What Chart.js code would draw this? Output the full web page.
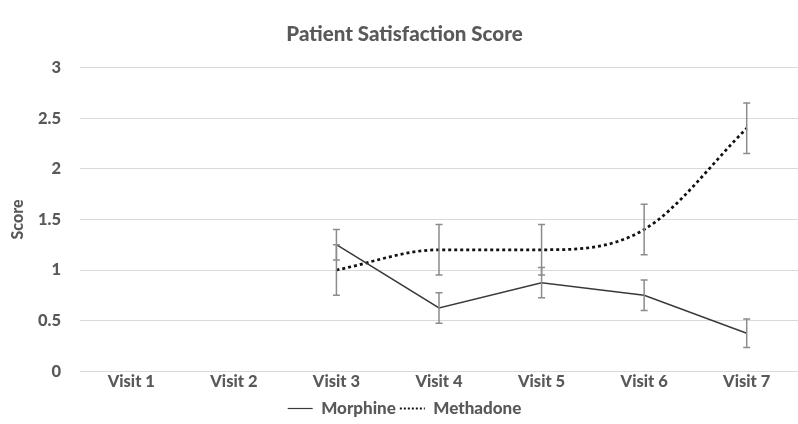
<!DOCTYPE html>
<html>
<head>
<meta charset="utf-8">
<script src="https://cdn.jsdelivr.net/npm/chart.js@4/dist/chart.umd.min.js"></script>
<style>
  html, body { margin: 0; padding: 0; background: #ffffff; overflow: hidden; }
  #wrap { width: 798px; height: 424px; }
</style>
</head>
<body>
<div id="wrap"><canvas id="c" width="798" height="424"></canvas></div>
<script>
// Visits on the x axis
const visits = ['Visit 1', 'Visit 2', 'Visit 3', 'Visit 4', 'Visit 5', 'Visit 6', 'Visit 7'];

// Mean satisfaction score per visit (no data for visits 1-2)
const morphine  = [null, null, 1.25, 0.625, 0.875, 0.75, 0.375];
const methadone = [null, null, 1.0, 1.2, 1.2, 1.4, 2.4];

// Error (+/-) around each mean
const morphineErr  = [null, null, 0.15, 0.15, 0.15, 0.15, 0.14];
const methadoneErr = [null, null, 0.25, 0.25, 0.25, 0.25, 0.25];

const yTicks = [0, 0.5, 1, 1.5, 2, 2.5, 3];

const textColor = '#595959';
const fontFamily = 'Lato, "Open Sans", sans-serif';
const heavy = 900;

// Draws vertical error bars with caps for every dataset that has an "errors" array
const errorBars = {
  id: 'errorBars',
  afterDatasetsDraw(chart) {
    const ctx = chart.ctx;
    const x = chart.scales.x, y = chart.scales.y;
    ctx.save();
    ctx.strokeStyle = '#8c8c8c';
    ctx.lineWidth = 1.5;
    ctx.setLineDash([]);
    chart.data.datasets.forEach(ds => {
      if (!ds.errors) return;
      ds.data.forEach((v, i) => {
        const e = ds.errors[i];
        if (v == null || e == null) return;
        const px = x.getPixelForValue(i);
        const top = y.getPixelForValue(v + e);
        const bot = y.getPixelForValue(v - e);
        const cap = 3.5;
        ctx.beginPath();
        ctx.moveTo(px, top); ctx.lineTo(px, bot);
        ctx.moveTo(px - cap, top); ctx.lineTo(px + cap, top);
        ctx.moveTo(px - cap, bot); ctx.lineTo(px + cap, bot);
        ctx.stroke();
      });
    });
    ctx.restore();
  }
};

// Nudges the legend row a little lower under the axis labels
const legendNudge = {
  id: 'legendNudge',
  afterLayout(chart) {
    chart.legend.top += 3;
    chart.legend.bottom += 3;
  }
};

new Chart(document.getElementById('c'), {
  type: 'line',
  data: {
    labels: visits,
    datasets: [
      {
        label: 'Morphine',
        data: morphine,
        errors: morphineErr,
        borderColor: '#3a3a3a',
        backgroundColor: 'rgba(0,0,0,0)',
        borderWidth: 1.5,
        pointRadius: 0,
        tension: 0
      },
      {
        label: 'Methadone',
        data: methadone,
        errors: methadoneErr,
        borderColor: '#111111',
        backgroundColor: 'rgba(0,0,0,0)',
        borderWidth: 2.75,
        borderDash: [3, 3],
        pointRadius: 0,
        cubicInterpolationMode: 'monotone'
      }
    ]
  },
  options: {
    responsive: false,
    animation: false,
    devicePixelRatio: 1,
    layout: { padding: { top: 22, right: -11, left: 0, bottom: 0 } },
    plugins: {
      title: {
        display: true,
        text: 'Patient Satisfaction Score',
        color: textColor,
        font: { family: fontFamily, size: 20.5, weight: heavy },
        padding: { top: 0, bottom: 21 }
      },
      legend: {
        position: 'bottom',
        labels: {
          color: textColor,
          font: { family: fontFamily, size: 17, weight: heavy },
          usePointStyle: true,
          pointStyleWidth: 25,
          boxHeight: 10,
          padding: 4,
          generateLabels(chart) {
            return chart.data.datasets.map((ds, i) => ({
              text: ds.label,
              fillStyle: 'rgba(0,0,0,0)',
              strokeStyle: ds.borderColor,
              pointStyle: 'line',
              lineWidth: i === 0 ? 1.2 : 2,
              lineDash: i === 0 ? [] : [2, 2],
              fontColor: textColor,
              datasetIndex: i
            }));
          }
        }
      },
      tooltip: { enabled: false }
    },
    scales: {
      x: {
        offset: true,
        grid: { display: false, drawTicks: false },
        border: { display: false },
        ticks: {
          color: textColor,
          padding: 1,
          font: { family: fontFamily, size: 16.5, weight: heavy },
          maxRotation: 0
        }
      },
      y: {
        min: 0,
        max: 3,
        afterBuildTicks(scale) { scale.ticks = yTicks.map(v => ({ value: v })); },
        afterFit(scale) { scale.width = 80; },
        grid: { color: '#d9d9d9', lineWidth: 1, drawTicks: false },
        border: { display: false },
        title: {
          display: true,
          text: 'Score',
          color: textColor,
          font: { family: fontFamily, size: 16, weight: heavy },
          padding: { top: 8, bottom: 0 }
        },
        ticks: {
          color: textColor,
          padding: 19,
          callback: v => String(v),
          font: { family: fontFamily, size: 16.5, weight: heavy }
        }
      }
    }
  },
  plugins: [errorBars, legendNudge]
});
</script>
</body>
</html>
